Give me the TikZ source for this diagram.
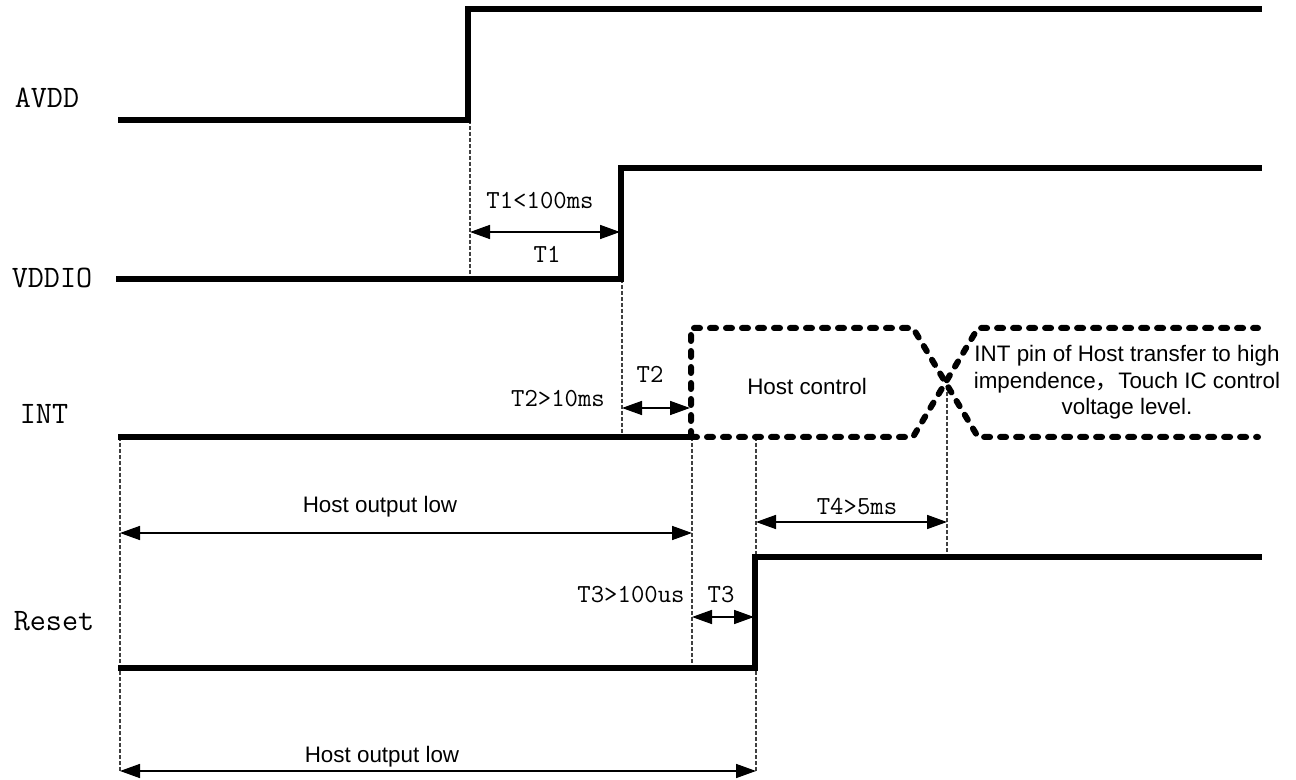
\documentclass[tikz,border=0pt]{standalone}
\usepackage{fontspec}
\setsansfont{Liberation Sans}
\newfontfamily\cjk{Noto Sans CJK SC}
\usetikzlibrary{arrows.meta}
\begin{document}
\begin{tikzpicture}[x=0.5pt,y=-0.5pt,
  sig/.style={line width=3.2pt, line join=miter},
  hiz/.style={line width=3pt, line cap=round, line join=round, dash pattern=on 3pt off 5pt},
  guide/.style={line width=0.7pt, dash pattern=on 2pt off 1pt, black!75},
  dim/.style={line width=0.8pt, {Triangle[length=10pt,width=7pt]}-{Triangle[length=10pt,width=7pt]}},
  siglab/.style={font=\ttfamily\fontsize{15.6}{18}\selectfont, inner sep=0, anchor=base},
  tlab/.style={font=\ttfamily\fontsize{13}{15}\selectfont, inner sep=0, anchor=base},
  note/.style={font=\sffamily\fontsize{11.2}{13.3}\selectfont, inner sep=0, align=center, anchor=base}]
\useasboundingbox (0,0) rectangle (1296,780);

% signal labels
\node[siglab] (lavdd) at (47,108) {AVDD};
\node[siglab] (lvddio) at (52,288) {VDDIO};
\node[siglab] (lint) at (44,424) {INT};
\node[siglab] (lreset) at (54,630) {Reset};

% guide lines
\coordinate (g1t) at (470,120); \coordinate (g1b) at (470,279);
\coordinate (g2t) at (622,279); \coordinate (g2b) at (622,437);
\coordinate (g3t) at (120,437); \coordinate (g3b) at (120,771);
\coordinate (g4t) at (692,437); \coordinate (g4b) at (692,664);
\coordinate (g5t) at (756,437); \coordinate (g5b) at (756,771);
\coordinate (g6t) at (947,386); \coordinate (g6b) at (947,555);
\draw[guide] (g1t) -- (g1b);
\draw[guide] (g2t) -- (g2b);
\draw[guide] (g3t) -- (g3b);
\draw[guide] (g4t) -- (g4b);
\draw[guide] (g5t) -- (g5b);
\draw[guide] (g6t) -- (g6b);

% AVDD
\coordinate (a0) at (118,120); \coordinate (a1) at (468,120);
\coordinate (a2) at (468,9);   \coordinate (a3) at (1262,9);
\draw[sig] (a0) -- (a1) -- (a2) -- (a3);

% VDDIO
\coordinate (v0) at (116,279); \coordinate (v1) at (621,279);
\coordinate (v2) at (621,168); \coordinate (v3) at (1262,168);
\draw[sig] (v0) -- (v1) -- (v2) -- (v3);

% INT
\coordinate (i0) at (118,437); \coordinate (i1) at (691,437);
\draw[sig] (i0) -- (i1);
\coordinate (h0) at (691,328); \coordinate (h1) at (913,328);
\coordinate (h2) at (913,437);
\coordinate (h3) at (978,437); \coordinate (h4) at (978,328);
\coordinate (h5) at (1258,328); \coordinate (h6) at (1258,437);
\draw[hiz] (i1) -- (h0) -- (h1) -- (h3) -- (h6);
\draw[hiz] (i1) -- (h2) -- (h4) -- (h5);

% Reset
\coordinate (r0) at (118,668); \coordinate (r1) at (755,668);
\coordinate (r2) at (755,557); \coordinate (r3) at (1262,557);
\draw[sig] (r0) -- (r1) -- (r2) -- (r3);

% dimension arrows
\coordinate (t1a) at (470,232); \coordinate (t1b) at (620,232);
\coordinate (t2a) at (622,408); \coordinate (t2b) at (690,408);
\coordinate (ha) at (120,533);  \coordinate (hb) at (692,533);
\coordinate (t4a) at (756,522); \coordinate (t4b) at (947,522);
\coordinate (t3a) at (692,617); \coordinate (t3b) at (754,617);
\coordinate (la) at (120,771);  \coordinate (lb) at (756,771);
\draw[dim] (t1a) -- (t1b);
\draw[dim] (t2a) -- (t2b);
\draw[dim] (ha) -- (hb);
\draw[dim] (t4a) -- (t4b);
\draw[dim] (t3a) -- (t3b);
\draw[dim] (la) -- (lb);

% timing labels
\node[tlab] (nt1max) at (540,209) {T1<100ms};
\node[tlab] (nt1) at (547,263) {T1};
\node[tlab] (nt2) at (650,383) {T2};
\node[tlab] (nt2min) at (558,407) {T2>10ms};
\node[tlab] (nt3min) at (631,602) {T3>100us};
\node[tlab] (nt3) at (721,602) {T3};
\node[tlab] (nt4) at (857,515) {T4>5ms};

% notes
\node[note] (nhc) at (807,395) {Host control};
\node[note] (nhol1) at (380,513) {Host output low};
\node[note] (nhol2) at (382,762) {Host output low};
\node[note] (nint) at (1127,415) {INT pin of Host transfer to high\\impendence{\cjk，}Touch IC control\\voltage level.};
\end{tikzpicture}
\end{document}
